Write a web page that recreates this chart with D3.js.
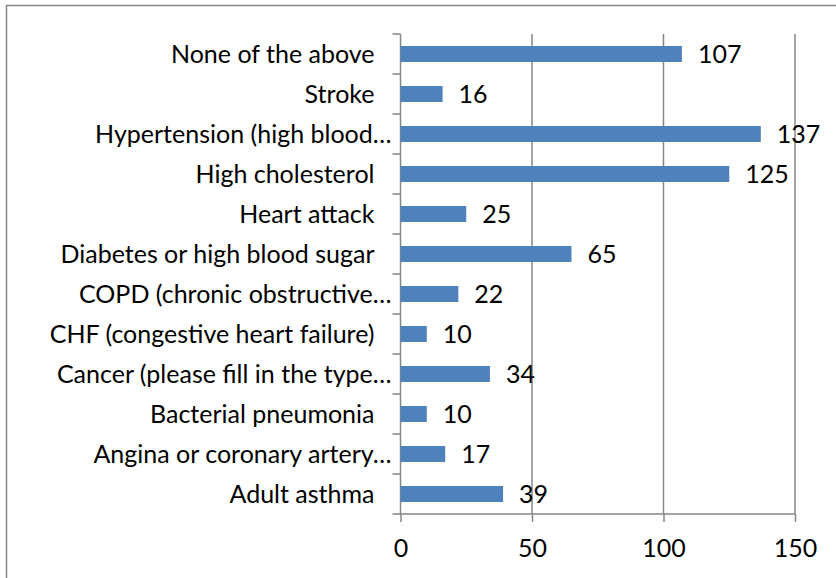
<!DOCTYPE html>
<html>
<head>
<meta charset="utf-8">
<script src="https://cdn.jsdelivr.net/npm/d3@7"></script>
<style>
  body { margin: 0; background: #fff; }
  svg text { font-family: Lato, "Open Sans", sans-serif; fill: #000; }
</style>
</head>
<body>
<div id="chart"></div>
<script>
// Data: categories top to bottom, as shown on the chart
const categories = [
  "None of the above",
  "Stroke",
  "Hypertension (high blood\u2026",
  "High cholesterol",
  "Heart attack",
  "Diabetes or high blood sugar",
  "COPD (chronic obstructive\u2026",
  "CHF (congestive heart failure)",
  "Cancer (please fill in the type\u2026",
  "Bacterial pneumonia",
  "Angina or coronary artery\u2026",
  "Adult asthma"
];
const counts = [107, 16, 137, 125, 25, 65, 22, 10, 34, 10, 17, 39];
const xTicks = [0, 50, 100, 150];

const width = 836, height = 578;
const margin = { top: 34, left: 400.5, right: 41, bottom: 64 };
const fontSize = 25;
const gridColor = "#868686";

const svg = d3.select("#chart").append("svg")
  .attr("width", width)
  .attr("height", height);

// outer frame (right/bottom edges fall outside the picture)
svg.append("rect")
  .attr("x", 6.5).attr("y", 5.5)
  .attr("width", 900).attr("height", 700)
  .attr("fill", "none")
  .attr("stroke", gridColor)
  .attr("stroke-width", 1.5);

const x = d3.scaleLinear().domain([0, 150]).range([margin.left, width - margin.right]);
const y = d3.scaleBand().domain(categories).range([margin.top, height - margin.bottom]).paddingInner(0.6).paddingOuter(0.3);
const yTop = margin.top, yBottom = height - margin.bottom;

// vertical gridlines
svg.append("g")
  .selectAll("line")
  .data(xTicks.slice(1))
  .join("line")
  .attr("x1", d => x(d)).attr("x2", d => x(d))
  .attr("y1", yTop).attr("y2", yBottom)
  .attr("stroke", gridColor)
  .attr("stroke-width", 1.5);

// bottom axis
const xAxis = svg.append("g")
  .attr("transform", `translate(0,${yBottom})`)
  .call(d3.axisBottom(x).tickValues(xTicks).tickSize(8).tickSizeOuter(0).tickPadding(17));
xAxis.select(".domain").remove();
xAxis.selectAll(".tick line").attr("stroke", gridColor).attr("stroke-width", 1.5);
xAxis.selectAll(".tick text").attr("font-size", fontSize).attr("font-family", null);
xAxis.append("line")
  .attr("x1", x(0) - 8).attr("x2", x(150))
  .attr("stroke", gridColor).attr("stroke-width", 1.5);

// left axis: line plus ticks between categories
const step = (yBottom - yTop) / categories.length;
svg.append("line")
  .attr("x1", x(0)).attr("x2", x(0))
  .attr("y1", yTop).attr("y2", yBottom)
  .attr("stroke", gridColor).attr("stroke-width", 1.5);
svg.append("g")
  .selectAll("line")
  .data(d3.range(categories.length))
  .join("line")
  .attr("x1", x(0) - 8).attr("x2", x(0))
  .attr("y1", i => yTop + i * step).attr("y2", i => yTop + i * step)
  .attr("stroke", gridColor).attr("stroke-width", 1.5);

// category labels
svg.append("g")
  .selectAll("text")
  .data(categories)
  .join("text")
  .attr("x", d => d.endsWith("\u2026") ? x(0) - 9 : x(0) - 26)
  .attr("y", d => y(d) + y.bandwidth() / 2)
  .attr("dy", "0.36em")
  .attr("text-anchor", "end")
  .attr("font-size", fontSize)
  .text(d => d);

// bars
svg.append("g")
  .selectAll("rect")
  .data(counts)
  .join("rect")
  .attr("x", x(0))
  .attr("y", (d, i) => y(categories[i]))
  .attr("width", d => x(d) - x(0))
  .attr("height", y.bandwidth())
  .attr("fill", "#4F81BD");

// value labels
svg.append("g")
  .selectAll("text")
  .data(counts)
  .join("text")
  .attr("x", d => x(d) + 16)
  .attr("y", (d, i) => y(categories[i]) + y.bandwidth() / 2)
  .attr("dy", "0.36em")
  .attr("font-size", fontSize)
  .text(d => d);
</script>
</body>
</html>
